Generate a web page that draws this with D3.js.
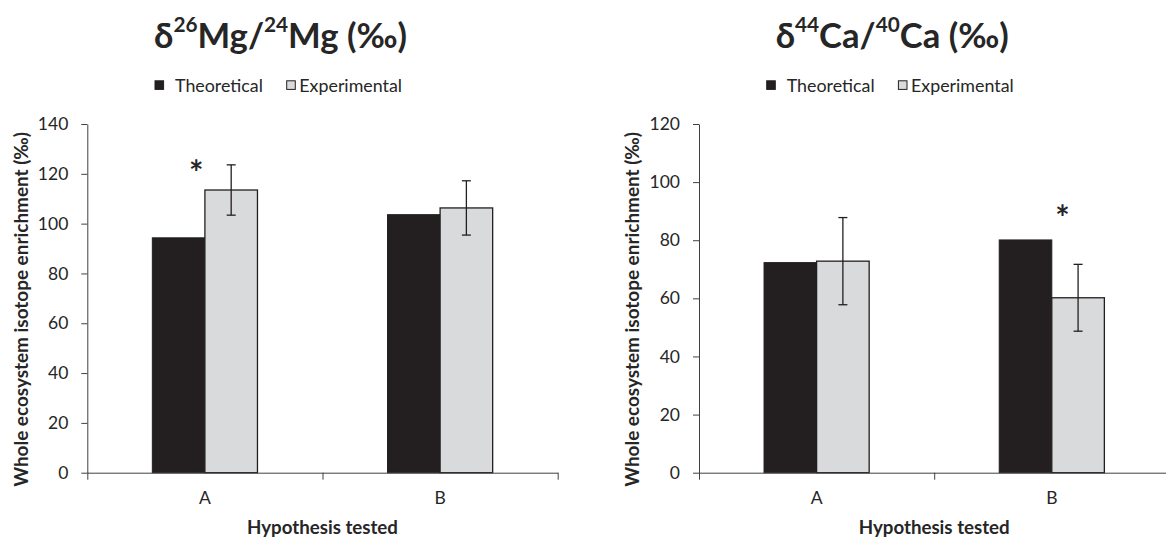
<!DOCTYPE html>
<html><head><meta charset="utf-8">
<script src="https://cdn.jsdelivr.net/npm/d3@7"></script>
<style>
body{margin:0;background:#fff}
svg{display:block}
text{font-family:Lato,"Open Sans",sans-serif;fill:#262626}
</style>
</head><body>
<svg id="chart" width="1166" height="541"></svg>
<script>
// ---------- data ----------
const categories = ["A", "B"];
const seriesNames = ["Theoretical", "Experimental"];

const mgTheoretical = [94.3, 103.6];
const mgExperimental = [113.5, 106.3];
const mgError = [10.1, 10.9];
const mgTicks = [0, 20, 40, 60, 80, 100, 120, 140];
const mgStarCategory = ["A"];
const mgStarValue = [123.5];

const caTheoretical = [72.3, 80.1];
const caExperimental = [72.8, 60.2];
const caError = [15.0, 11.5];
const caTicks = [0, 20, 40, 60, 80, 100, 120];
const caStarCategory = ["B"];
const caStarValue = [90.2];

const yAxisTitle = "Whole ecosystem isotope enrichment (‰)";
const xAxisTitle = "Hypothesis tested";

// ---------- style ----------
const INK = "#231f20", GREY = "#d9dadb", AXIS = "#404040", TXT = "#262626";
const svg = d3.select("#chart");

function fitWidth(sel, target) {
  const fs = parseFloat(sel.attr("font-size"));
  const w = sel.node().getComputedTextLength();
  sel.attr("font-size", fs * target / w);
  return fs * target / w;
}

function drawPanel(opt) {
  const g = svg.append("g").attr("transform", `translate(${opt.dx},0)`);
  const x0 = 87.3, x1 = 557.7, yTop = 124, yBot = 472.7;
  const y = d3.scaleLinear().domain([0, d3.max(opt.ticks)]).range([yBot, yTop]);
  const x = d3.scaleBand().domain(categories).range([x0, x1]).padding(0);
  const bw = x.step() * 0.2235;
  const cx = c => x(c) + x.bandwidth() / 2;

  // title
  const title = g.append("text").attr("x", 280.5).attr("y", 48.3)
    .attr("text-anchor", "middle").attr("font-weight", "bold")
    .attr("font-size", 34);
  title.append("tspan").text("δ");
  title.append("tspan").attr("font-size", "60%").attr("dy", "-0.8em").text(opt.iso1);
  title.append("tspan").attr("dy", "0.48em").text(opt.el + "/");
  title.append("tspan").attr("font-size", "60%").attr("dy", "-0.8em").text(opt.iso2);
  title.append("tspan").attr("dy", "0.48em").text(opt.el + " (‰)");
  if (opt.titleSize) title.attr("font-size", opt.titleSize);
  else opt.titleSize = fitWidth(title, 253);

  // legend
  const lg = g.append("g");
  const lcx = 280.5;
  const swatchX = [lcx - 125.5, lcx + 6.2];
  const textX = [lcx - 105.5, lcx + 18.8];
  seriesNames.forEach((s, i) => {
    lg.append("rect").attr("x", swatchX[i]).attr("y", 80.8)
      .attr("width", 8.6).attr("height", 8.6)
      .attr("fill", i === 0 ? INK : GREY).attr("stroke", INK).attr("stroke-width", 1);
    const t = lg.append("text").attr("x", textX[i]).attr("y", 91.7)
      .attr("font-size", 17).text(s);
    if (i === 0) opt.legSize = fitWidth(t, 88); else t.attr("font-size", opt.legSize);
  });

  // bars
  const data = categories.map((c, i) => ({c, t: opt.theo[i], e: opt.exp[i], err: opt.err[i]}));
  g.selectAll(".theo").data(data).join("rect")
    .attr("x", d => cx(d.c) - bw).attr("width", bw)
    .attr("y", d => y(d.t)).attr("height", d => yBot - y(d.t))
    .attr("fill", INK).attr("stroke", INK).attr("stroke-width", 1);
  g.selectAll(".exp").data(data).join("rect")
    .attr("x", d => cx(d.c)).attr("width", bw)
    .attr("y", d => y(d.e)).attr("height", d => yBot - y(d.e))
    .attr("fill", GREY).attr("stroke", INK).attr("stroke-width", 1.3);

  // error bars
  const eb = g.append("g").attr("stroke", INK).attr("stroke-width", 1.3);
  data.forEach(d => {
    const ex = cx(d.c) + bw / 2;
    eb.append("line").attr("x1", ex).attr("x2", ex).attr("y1", y(d.e + d.err)).attr("y2", y(d.e - d.err));
    [d.e + d.err, d.e - d.err].forEach(v =>
      eb.append("line").attr("x1", ex - 4.5).attr("x2", ex + 4.5).attr("y1", y(v)).attr("y2", y(v)));
  });

  // axes
  const ya = g.append("g").attr("transform", `translate(${x0},0)`)
    .call(d3.axisLeft(y).tickValues(opt.ticks).tickSize(6).tickSizeOuter(0).tickPadding(13));
  ya.select(".domain").attr("stroke", AXIS);
  ya.selectAll(".tick line").attr("stroke", AXIS);
  ya.selectAll(".tick text").attr("font-size", 17.5).attr("font-family", "Lato").attr("fill", TXT);

  const xi = d3.scaleLinear().domain([0, categories.length]).range([x0, x1]);
  const xa = g.append("g").attr("transform", `translate(0,${yBot})`)
    .call(d3.axisBottom(xi).tickValues(d3.range(categories.length + 1)).tickFormat("").tickSize(7).tickSizeOuter(0));
  xa.select(".domain").attr("stroke", AXIS);
  xa.selectAll(".tick line").attr("stroke", AXIS);

  const xl = g.append("g").attr("transform", `translate(0,${yBot})`)
    .call(d3.axisBottom(x).tickSize(0).tickPadding(19));
  xl.select(".domain").remove();
  xl.selectAll(".tick text").attr("font-size", 17.5).attr("font-family", "Lato").attr("fill", TXT);

  // axis titles
  const yt = g.append("text").attr("transform", `translate(21,309.4) rotate(-90)`)
    .attr("text-anchor", "middle").attr("dy", "0.35em").attr("font-weight", "bold")
    .attr("font-size", 17).text(yAxisTitle);
  if (opt.ytSize) yt.attr("font-size", opt.ytSize); else opt.ytSize = fitWidth(yt, 355);

  const xt = g.append("text").attr("x", (x0 + x1) / 2).attr("y", 534)
    .attr("text-anchor", "middle").attr("font-weight", "bold")
    .attr("font-size", 17).text(xAxisTitle);
  if (opt.xtSize) xt.attr("font-size", opt.xtSize); else opt.xtSize = fitWidth(xt, 151);

  // significance stars
  opt.starCat.forEach((c, i) => {
    g.append("text").attr("x", cx(c) + opt.starShift * x.step())
      .attr("y", y(opt.starVal[i])).attr("dy", "0.58em")
      .attr("text-anchor", "middle").attr("font-weight", "bold")
      .attr("font-size", 34).text("*");
  });
  return opt;
}

const left = drawPanel({dx: 0, iso1: "26", iso2: "24", el: "Mg",
  theo: mgTheoretical, exp: mgExperimental, err: mgError, ticks: mgTicks,
  starCat: mgStarCategory, starVal: mgStarValue, starShift: -0.037});

drawPanel({dx: 611.7, iso1: "44", iso2: "40", el: "Ca",
  theo: caTheoretical, exp: caExperimental, err: caError, ticks: caTicks,
  starCat: caStarCategory, starVal: caStarValue, starShift: 0.045,
  titleSize: left.titleSize, legSize: left.legSize, ytSize: left.ytSize, xtSize: left.xtSize});
</script>
</body></html>
